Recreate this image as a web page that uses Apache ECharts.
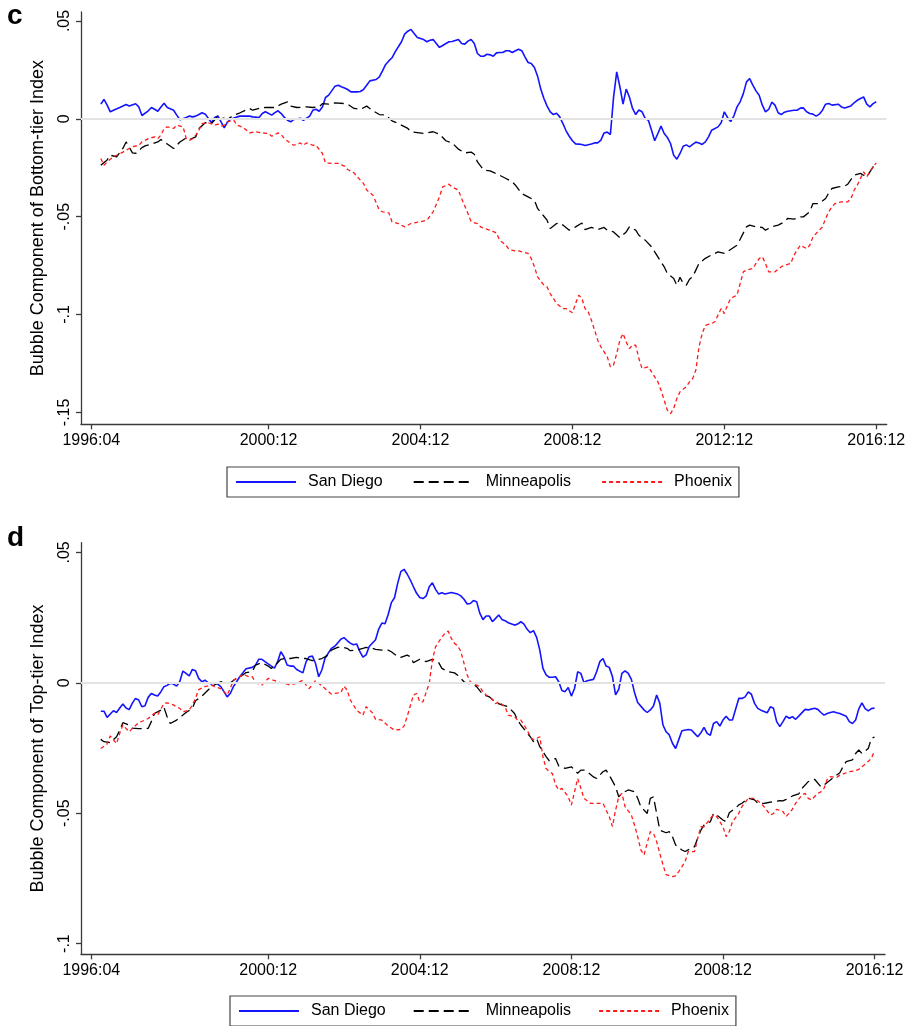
<!DOCTYPE html>
<html><head><meta charset="utf-8">
<script src="https://cdn.jsdelivr.net/npm/echarts@6/dist/echarts.min.js"></script>
<style>html,body{margin:0;padding:0;background:#fff}#chart{width:912px;height:1026px}</style>
</head><body><div id="chart"></div>
<script>
// month index = months since 1996:04
const tickMonths = [0, 56, 104, 152, 200, 248];
const xLabelsC = ['1996:04', '2000:12', '2004:12', '2008:12', '2012:12', '2016:12'];
const xLabelsD = ['1996:04', '2000:12', '2004:12', '2008:12', '2008:12', '2016:12'];
const yTicksC = [-0.15, -0.1, -0.05, 0, 0.05];
const yLabelsC = ['-.15', '-.1', '-.05', '0', '.05'];
const yTicksD = [-0.1, -0.05, 0, 0.05];
const yLabelsD = ['-.1', '-.05', '0', '.05'];
const seriesNames = ['San Diego', 'Minneapolis', 'Phoenix'];
const titleC = 'Bubble Component of Bottom-tier Index';
const titleD = 'Bubble Component of Top-tier Index';

// Panel c: bottom-tier index  [monthIndex, value]
const sanDiegoBottom = [[3,.0075],[4,.0099],[5,.0070],[6,.0036],[7,.0044],[9,.0058],[11,.0073],[12,.0066],[14,.0077],[15,.0061],[16,.0017],[18,.0041],[19,.0058],[20,.0049],[21,.0039],[22,.0061],[23,.0080],[24,.0058],[26,.0044],[27,.0019],[28,-.0005],[30,.0007],[31,.0014],[32,.0010],[33,.0014],[34,.0022],[35,.0031],[36,.0024],[37,.0002],[38,-.0020],[39,.0007],[40,.0014],[41,-.0015],[42,-.0046],[43,-.0017],[44,-.0002],[46,.0010],[47,.0014],[50,.0014],[51,.0010],[53,.0007],[54,.0027],[55,.0036],[57,.0019],[58,.0032],[59,.0041],[60,.0027],[61,.0007],[62,-.0007],[63,-.0015],[64,-.0003],[66,.0003],[67,-.0007],[69,.0014],[70,.0044],[71,.0049],[72,.0039],[73,.0061],[74,.0109],[75,.0121],[77,.0167],[78,.0172],[79,.0164],[80,.0158],[81,.0150],[82,.0138],[84,.0138],[85,.0140],[86,.0150],[87,.0172],[88,.0194],[90,.0201],[91,.0215],[92,.0245],[93,.0278],[94,.0296],[95,.0312],[96,.0342],[98,.0394],[99,.0433],[100,.0448],[101,.0457],[102,.0436],[103,.0416],[105,.0405],[106,.0394],[107,.0402],[108,.0405],[109,.0385],[110,.0365],[111,.0375],[113,.0394],[114,.0395],[116,.0405],[117,.0385],[118,.0382],[119,.0397],[120,.0405],[121,.0385],[122,.0334],[123,.0320],[124,.0320],[125,.0330],[126,.0327],[127,.0320],[128,.0337],[129,.0339],[130,.0339],[131,.0348],[132,.0348],[133,.0339],[134,.0348],[135,.0356],[136,.0348],[137,.0317],[138,.0288],[139,.0283],[140,.0262],[141,.0218],[142,.0152],[143,.0104],[144,.0065],[145,.0036],[146,.0022],[147,.0029],[148,.0010],[149,-.0024],[150,-.0061],[151,-.0089],[152,-.0112],[153,-.0128],[154,-.0129],[155,-.0131],[156,-.0136],[158,-.0129],[159,-.0123],[160,-.0123],[161,-.0109],[162,-.0072],[163,-.0068],[164,-.0080],[165,.0110],[166,.0240],[167,.0164],[168,.0075],[169,.0152],[170,.0112],[171,.0053],[172,.0022],[173,.0045],[174,.0036],[175,.0002],[176,-.0007],[177,-.0058],[178,-.0112],[179,-.0075],[180,-.0037],[181,-.0075],[182,-.0095],[183,-.0126],[184,-.0186],[185,-.0206],[186,-.0177],[187,-.0140],[188,-.0133],[189,-.0143],[190,-.0131],[191,-.0119],[192,-.0123],[193,-.0131],[194,-.0118],[195,-.0092],[196,-.0058],[198,-.0041],[199,-.0020],[200,.0036],[201,.0007],[202,-.0014],[203,.0014],[204,.0061],[205,.0087],[206,.0129],[207,.0189],[208,.0206],[209,.0172],[210,.0143],[211,.0121],[212,.0070],[213,.0036],[214,.0048],[215,.0085],[216,.0070],[217,.0031],[218,.0022],[219,.0034],[220,.0039],[222,.0044],[223,.0044],[224,.0055],[225,.0056],[226,.0036],[227,.0027],[228,.0024],[229,.0014],[230,.0024],[231,.0044],[232,.0075],[233,.0078],[234,.0070],[236,.0075],[237,.0061],[238,.0055],[239,.0061],[240,.0066],[241,.0082],[242,.0095],[243,.0104],[244,.0112],[245,.0075],[246,.0061],[247,.0078],[248,.0087]];
const minneapolisBottom = [[3,-.0237],[5,-.0210],[6,-.0186],[8,-.0194],[10,-.0150],[11,-.0118],[13,-.0174],[14,-.0177],[16,-.0147],[17,-.0138],[19,-.0129],[21,-.0118],[22,-.0106],[24,-.0129],[26,-.0152],[28,-.0118],[30,-.0097],[31,-.0106],[33,-.0092],[34,-.0049],[36,-.0020],[38,-.0024],[40,.0014],[41,.0007],[43,-.0003],[45,.0019],[47,.0031],[50,.0053],[51,.0044],[53,.0053],[55,.0058],[58,.0058],[60,.0075],[62,.0087],[63,.0065],[65,.0058],[68,.0061],[70,.0058],[72,.0061],[73,.0078],[75,.0075],[77,.0082],[80,.0078],[81,.0075],[83,.0053],[85,.0048],[87,.0065],[89,.0041],[91,.0022],[93,.0019],[95,-.0010],[97,-.0024],[100,-.0049],[101,-.0066],[103,-.0070],[105,-.0075],[108,-.0066],[110,-.0078],[112,-.0112],[114,-.0123],[116,-.0155],[118,-.0174],[120,-.0170],[121,-.0181],[122,-.0220],[124,-.0262],[126,-.0266],[129,-.0288],[131,-.0305],[133,-.0322],[134,-.0339],[136,-.0382],[138,-.0399],[140,-.0416],[141,-.0458],[144,-.0518],[145,-.0560],[147,-.0535],[148,-.0532],[149,-.0543],[151,-.0569],[153,-.0552],[155,-.0532],[156,-.0566],[158,-.0555],[160,-.0566],[162,-.0555],[163,-.0569],[165,-.0578],[167,-.0607],[169,-.0578],[170,-.0552],[172,-.0569],[173,-.0595],[175,-.0620],[177,-.0654],[178,-.0680],[180,-.0731],[181,-.0756],[182,-.0790],[184,-.0816],[185,-.0850],[186,-.0810],[187,-.0841],[188,-.0850],[189,-.0820],[190,-.0807],[191,-.0773],[192,-.0739],[194,-.0713],[196,-.0695],[198,-.0680],[200,-.0688],[201,-.0678],[204,-.0646],[205,-.0615],[207,-.0552],[208,-.0543],[210,-.0552],[212,-.0555],[213,-.0569],[215,-.0552],[217,-.0543],[219,-.0526],[220,-.0509],[222,-.0513],[224,-.0501],[225,-.0501],[227,-.0475],[228,-.0433],[230,-.0433],[232,-.0407],[233,-.0378],[234,-.0356],[236,-.0348],[238,-.0344],[239,-.0334],[241,-.0288],[243,-.0279],[244,-.0288],[245,-.0296],[247,-.0245],[248,-.0225]];
const phoenixBottom = [[3,-.0203],[4,-.0237],[5,-.0220],[7,-.0194],[8,-.0186],[10,-.0170],[11,-.0160],[13,-.0143],[15,-.0135],[16,-.0118],[18,-.0101],[20,-.0092],[21,-.0101],[22,-.0083],[23,-.0049],[24,-.0041],[26,-.0049],[27,-.0032],[29,-.0041],[30,-.0101],[31,-.0110],[32,-.0101],[33,-.0083],[34,-.0058],[35,-.0024],[37,-.0020],[39,-.0032],[40,-.0027],[41,-.0037],[42,-.0032],[43,-.0015],[45,-.0007],[46,-.0032],[48,-.0044],[50,-.0072],[52,-.0066],[54,-.0072],[56,-.0075],[57,-.0089],[59,-.0072],[60,-.0080],[61,-.0101],[63,-.0126],[64,-.0135],[66,-.0123],[67,-.0135],[68,-.0123],[70,-.0135],[71,-.0135],[73,-.0177],[74,-.0225],[76,-.0228],[78,-.0228],[80,-.0242],[81,-.0259],[83,-.0276],[84,-.0296],[86,-.0330],[87,-.0364],[89,-.0390],[90,-.0429],[91,-.0467],[92,-.0475],[94,-.0480],[95,-.0526],[97,-.0535],[99,-.0552],[101,-.0535],[102,-.0532],[104,-.0526],[106,-.0518],[108,-.0475],[110,-.0399],[111,-.0348],[113,-.0334],[114,-.0348],[116,-.0365],[117,-.0407],[119,-.0484],[120,-.0526],[122,-.0535],[123,-.0552],[124,-.0560],[126,-.0569],[128,-.0583],[129,-.0620],[131,-.0646],[132,-.0668],[134,-.0675],[135,-.0675],[138,-.0688],[139,-.0714],[140,-.0756],[141,-.0808],[143,-.0850],[144,-.0859],[145,-.0893],[147,-.0944],[149,-.0970],[150,-.0970],[152,-.0991],[153,-.0944],[154,-.0901],[155,-.0918],[156,-.0970],[157,-.0986],[158,-.1029],[159,-.1080],[160,-.1131],[161,-.1165],[163,-.1216],[164,-.1267],[165,-.1259],[166,-.1199],[167,-.1131],[168,-.1097],[169,-.1140],[170,-.1174],[171,-.1157],[172,-.1157],[173,-.1225],[174,-.1276],[176,-.1267],[177,-.1293],[178,-.1319],[179,-.1344],[180,-.1387],[181,-.1438],[182,-.1489],[183,-.1506],[184,-.1480],[185,-.1429],[186,-.1395],[188,-.1369],[189,-.1344],[190,-.1327],[191,-.1284],[192,-.1165],[193,-.1097],[194,-.1055],[196,-.1046],[197,-.1037],[198,-.1003],[199,-.0969],[200,-.0995],[201,-.0952],[202,-.0918],[204,-.0901],[205,-.0842],[206,-.0782],[207,-.0773],[209,-.0765],[210,-.0739],[211,-.0714],[212,-.0705],[213,-.0739],[214,-.0782],[216,-.0782],[218,-.0756],[219,-.0748],[221,-.0739],[222,-.0697],[223,-.0671],[224,-.0646],[226,-.0663],[227,-.0646],[228,-.0603],[230,-.0569],[231,-.0552],[232,-.0509],[233,-.0475],[234,-.0450],[235,-.0433],[237,-.0424],[239,-.0424],[240,-.0407],[241,-.0365],[242,-.0339],[243,-.0305],[244,-.0271],[245,-.0296],[246,-.0271],[247,-.0245],[248,-.0225]];

// Panel d: top-tier index  [monthIndex, value]
const sanDiegoTop = [[3,-.0109],[4,-.0109],[5,-.0133],[6,-.0120],[7,-.0107],[8,-.0114],[9,-.0097],[10,-.0081],[11,-.0097],[12,-.0103],[13,-.0078],[14,-.0060],[15,-.0066],[16,-.0092],[17,-.0088],[18,-.0056],[19,-.0041],[20,-.0047],[21,-.0051],[22,-.0035],[23,-.0015],[24,-.0010],[25,-.0002],[26,-.0005],[27,-.0013],[28,.0004],[29,.0045],[30,.0036],[31,.0026],[32,.0051],[33,.0046],[34,.0017],[35,.0004],[36,.0010],[37,.0000],[38,-.0005],[39,.0000],[40,-.0005],[41,-.0015],[42,-.0034],[43,-.0054],[44,-.0041],[45,-.0015],[46,.0004],[47,.0023],[48,.0038],[49,.0054],[51,.0059],[52,.0068],[53,.0090],[54,.0090],[55,.0081],[57,.0064],[58,.0056],[59,.0081],[60,.0119],[61,.0100],[62,.0068],[63,.0064],[64,.0064],[65,.0051],[67,.0038],[68,.0080],[69,.0100],[70,.0102],[71,.0074],[72,.0023],[73,.0049],[74,.0094],[76,.0132],[77,.0139],[78,.0152],[79,.0167],[80,.0173],[81,.0162],[82,.0152],[83,.0146],[84,.0149],[85,.0120],[86,.0098],[87,.0107],[88,.0139],[90,.0165],[91,.0206],[92,.0229],[93,.0226],[94,.0262],[95,.0307],[96,.0326],[97,.0381],[98,.0426],[99,.0435],[100,.0417],[101,.0394],[102,.0368],[103,.0343],[104,.0327],[105,.0323],[106,.0332],[107,.0368],[108,.0383],[109,.0358],[110,.0340],[111,.0345],[112,.0340],[113,.0343],[114,.0346],[115,.0343],[116,.0340],[117,.0333],[118,.0320],[119,.0302],[120,.0304],[121,.0315],[122,.0311],[123,.0267],[124,.0242],[125,.0256],[126,.0256],[127,.0234],[128,.0247],[129,.0260],[130,.0243],[131,.0238],[132,.0230],[134,.0221],[135,.0225],[136,.0234],[137,.0225],[138,.0205],[139,.0192],[140,.0200],[141,.0174],[142,.0125],[143,.0055],[144,.0030],[145,.0021],[146,.0021],[147,.0023],[148,.0004],[149,-.0030],[150,-.0034],[151,-.0018],[152,-.0051],[153,-.0022],[154,.0042],[155,.0036],[156,.0000],[157,.0008],[159,.0013],[160,.0042],[161,.0081],[162,.0093],[163,.0064],[164,.0059],[165,.0024],[166,-.0046],[167,-.0025],[168,.0036],[169,.0046],[170,.0036],[171,.0013],[172,-.0038],[173,-.0076],[175,-.0104],[176,-.0114],[177,-.0104],[178,-.0089],[179,-.0047],[180,-.0079],[181,-.0162],[182,-.0188],[183,-.0200],[184,-.0232],[185,-.0252],[186,-.0218],[187,-.0184],[189,-.0179],[190,-.0181],[191,-.0194],[192,-.0207],[193,-.0192],[194,-.0171],[195,-.0194],[196,-.0201],[197,-.0156],[198,-.0149],[199,-.0166],[200,-.0143],[201,-.0128],[202,-.0143],[203,-.0143],[205,-.0060],[206,-.0060],[207,-.0054],[208,-.0035],[209,-.0044],[210,-.0079],[211,-.0098],[212,-.0105],[214,-.0115],[215,-.0092],[216,-.0098],[217,-.0149],[218,-.0168],[219,-.0149],[220,-.0128],[221,-.0136],[222,-.0130],[223,-.0140],[224,-.0128],[226,-.0102],[227,-.0104],[229,-.0098],[230,-.0102],[231,-.0114],[232,-.0124],[233,-.0118],[234,-.0114],[235,-.0111],[236,-.0115],[237,-.0118],[239,-.0128],[240,-.0149],[241,-.0156],[242,-.0143],[243,-.0100],[244,-.0077],[245,-.0099],[246,-.0108],[247,-.0099],[248,-.0097]];
const minneapolisTop = [[3,-.0217],[4,-.0226],[6,-.0230],[8,-.0207],[9,-.0182],[10,-.0153],[12,-.0162],[13,-.0174],[15,-.0176],[18,-.0175],[19,-.0149],[20,-.0118],[22,-.0105],[23,-.0094],[24,-.0130],[25,-.0156],[27,-.0143],[29,-.0124],[30,-.0114],[32,-.0098],[33,-.0069],[35,-.0051],[37,-.0028],[38,-.0015],[40,-.0002],[41,.0004],[43,.0001],[44,.0000],[46,.0017],[48,.0030],[49,.0039],[51,.0043],[52,.0068],[54,.0077],[56,.0064],[57,.0055],[59,.0077],[60,.0090],[61,.0093],[63,.0093],[65,.0097],[67,.0093],[68,.0093],[70,.0085],[71,.0087],[73,.0093],[75,.0106],[76,.0125],[78,.0136],[79,.0138],[81,.0132],[82,.0123],[84,.0125],[86,.0132],[87,.0136],[89,.0132],[90,.0128],[92,.0125],[94,.0125],[95,.0119],[97,.0100],[98,.0097],[100,.0106],[101,.0100],[102,.0077],[104,.0090],[106,.0081],[108,.0090],[110,.0077],[111,.0055],[113,.0042],[115,.0038],[116,.0029],[118,.0004],[119,-.0002],[121,-.0005],[122,-.0015],[123,-.0030],[124,-.0045],[126,-.0054],[127,-.0064],[128,-.0076],[130,-.0085],[132,-.0092],[134,-.0118],[135,-.0143],[136,-.0162],[138,-.0192],[139,-.0207],[140,-.0226],[141,-.0214],[142,-.0245],[144,-.0283],[145,-.0299],[147,-.0290],[148,-.0319],[150,-.0328],[152,-.0322],[154,-.0347],[155,-.0335],[156,-.0335],[157,-.0341],[159,-.0361],[160,-.0367],[162,-.0341],[163,-.0335],[164,-.0354],[166,-.0399],[167,-.0437],[168,-.0424],[170,-.0411],[172,-.0418],[173,-.0443],[174,-.0475],[176,-.0501],[177,-.0443],[178,-.0437],[179,-.0501],[180,-.0565],[182,-.0575],[183,-.0571],[184,-.0590],[185,-.0622],[187,-.0641],[188,-.0647],[191,-.0628],[192,-.0596],[193,-.0565],[194,-.0546],[196,-.0533],[197,-.0501],[198,-.0507],[200,-.0526],[201,-.0533],[202,-.0498],[204,-.0481],[205,-.0468],[206,-.0462],[208,-.0443],[210,-.0449],[211,-.0462],[213,-.0462],[214,-.0460],[216,-.0456],[218,-.0452],[219,-.0453],[220,-.0447],[222,-.0434],[223,-.0430],[224,-.0426],[225,-.0405],[227,-.0379],[229,-.0370],[231,-.0399],[232,-.0392],[234,-.0373],[235,-.0363],[237,-.0345],[238,-.0322],[239,-.0302],[241,-.0296],[242,-.0271],[243,-.0258],[244,-.0271],[246,-.0252],[247,-.0213],[248,-.0208]];
const phoenixTop = [[3,-.0252],[5,-.0235],[6,-.0204],[8,-.0233],[9,-.0194],[10,-.0162],[12,-.0188],[13,-.0175],[15,-.0153],[17,-.0143],[18,-.0137],[20,-.0117],[21,-.0124],[23,-.0079],[24,-.0077],[26,-.0085],[28,-.0098],[29,-.0111],[31,-.0105],[32,-.0085],[33,-.0060],[34,-.0026],[36,-.0015],[38,-.0009],[39,-.0015],[41,-.0022],[42,-.0034],[43,-.0047],[44,-.0022],[45,.0010],[47,.0023],[48,.0033],[50,.0023],[51,.0023],[52,.0000],[54,-.0009],[56,.0017],[57,.0013],[59,.0004],[60,.0000],[62,-.0005],[63,-.0009],[65,-.0002],[67,.0010],[68,-.0009],[69,-.0022],[71,.0008],[72,-.0002],[74,-.0022],[76,-.0043],[77,-.0041],[79,-.0038],[80,-.0013],[81,-.0028],[82,-.0066],[84,-.0105],[86,-.0124],[87,-.0092],[89,-.0115],[90,-.0140],[92,-.0143],[94,-.0166],[96,-.0181],[98,-.0179],[99,-.0166],[100,-.0130],[102,-.0047],[103,-.0041],[104,-.0073],[105,-.0073],[107,-.0002],[108,.0087],[109,.0138],[111,.0175],[112,.0190],[113,.0198],[114,.0170],[115,.0151],[116,.0142],[117,.0120],[118,.0075],[119,.0030],[120,.0004],[121,-.0005],[122,-.0009],[123,-.0015],[124,-.0034],[125,-.0047],[126,-.0054],[127,-.0064],[128,-.0080],[129,-.0073],[131,-.0092],[132,-.0124],[134,-.0130],[135,-.0143],[136,-.0143],[137,-.0162],[138,-.0181],[139,-.0207],[140,-.0219],[142,-.0207],[143,-.0284],[144,-.0329],[145,-.0341],[146,-.0348],[147,-.0392],[148,-.0411],[149,-.0405],[151,-.0437],[152,-.0469],[153,-.0418],[154,-.0367],[155,-.0405],[156,-.0443],[158,-.0462],[159,-.0462],[161,-.0462],[162,-.0462],[163,-.0488],[164,-.0513],[165,-.0551],[166,-.0488],[167,-.0437],[168,-.0424],[169,-.0475],[171,-.0507],[172,-.0546],[173,-.0590],[174,-.0641],[175,-.0660],[176,-.0615],[177,-.0571],[178,-.0577],[179,-.0609],[180,-.0654],[181,-.0698],[182,-.0736],[184,-.0743],[185,-.0740],[186,-.0724],[188,-.0686],[189,-.0647],[191,-.0647],[192,-.0596],[193,-.0552],[194,-.0552],[196,-.0520],[197,-.0507],[198,-.0513],[200,-.0552],[201,-.0590],[202,-.0571],[203,-.0533],[205,-.0501],[206,-.0475],[208,-.0443],[210,-.0443],[212,-.0462],[213,-.0475],[215,-.0507],[216,-.0501],[217,-.0485],[219,-.0494],[220,-.0513],[222,-.0485],[223,-.0462],[225,-.0430],[226,-.0424],[227,-.0443],[228,-.0449],[230,-.0424],[231,-.0418],[232,-.0405],[233,-.0370],[234,-.0360],[236,-.0363],[237,-.0354],[239,-.0345],[240,-.0341],[242,-.0337],[243,-.0332],[244,-.0322],[245,-.0312],[247,-.0290],[248,-.0260]];

const FONT = '"Liberation Sans", Arial, Helvetica, sans-serif';
const AXIS_COLOR = '#3a3a3a';
const styles = [
  { color: '#1414ff', width: 1.6, type: 'solid' },
  { color: '#000000', width: 1.3, type: [10, 5] },
  { color: '#ff1a1a', width: 1.3, type: [4, 3] }
];

function xAxis(gridIndex, labels) {
  return {
    type: 'value', gridIndex, min: -3.26, max: 251.3,
    axisLine: { show: true, onZero: false, lineStyle: { color: AXIS_COLOR, width: 1.3 } },
    axisTick: { show: true, customValues: tickMonths, length: 5, lineStyle: { color: AXIS_COLOR, width: 1.3 } },
    axisLabel: {
      customValues: tickMonths, margin: 8, color: '#000', fontSize: 16, fontFamily: FONT,
      formatter: v => labels[tickMonths.indexOf(Math.round(v))]
    },
    splitLine: { show: false }
  };
}
function yAxis(gridIndex, min, max, ticks, labels, name) {
  return {
    type: 'value', gridIndex, min, max,
    name, nameLocation: 'middle', nameRotate: 90, nameGap: 34,
    nameTextStyle: { fontSize: 18, fontFamily: FONT, color: '#000' },
    axisLine: { show: true, onZero: false, lineStyle: { color: AXIS_COLOR, width: 1.3 } },
    axisTick: { show: true, customValues: ticks, length: 5, lineStyle: { color: AXIS_COLOR, width: 1.3 } },
    axisLabel: {
      customValues: ticks, rotate: 90, margin: 8, color: '#000', fontSize: 16, fontFamily: FONT,
      formatter: v => labels[ticks.findIndex(t => Math.abs(t - v) < 1e-9)]
    },
    splitLine: { show: false }
  };
}
function lineSeries(name, data, idx, styleIdx) {
  return {
    name, type: 'line', data, xAxisIndex: idx, yAxisIndex: idx,
    showSymbol: false, symbol: 'none', z: 3,
    lineStyle: styles[styleIdx], itemStyle: { color: styles[styleIdx].color },
    emphasis: { disabled: true }
  };
}
function zeroLine(idx) {
  return {
    type: 'line', data: [], xAxisIndex: idx, yAxisIndex: idx, z: 1, silent: true,
    markLine: {
      silent: true, symbol: ['none', 'none'], label: { show: false },
      lineStyle: { color: '#e3e3e3', width: 2, type: 'solid' },
      data: [{ yAxis: 0 }]
    }
  };
}
function legend(left, top, gap, padRight) {
  return {
    data: seriesNames, left, top, orient: 'horizontal',
    backgroundColor: '#fff', borderColor: '#444', borderWidth: 1.2,
    padding: [7, padRight, 7, 8], itemGap: gap, itemWidth: 60, itemHeight: 14,
    itemStyle: { opacity: 0 },
    textStyle: { fontSize: 16, fontFamily: FONT, color: '#000', padding: [0, 0, 0, 7] },
    selectedMode: false
  };
}

const chart = echarts.init(document.getElementById('chart'), null, { renderer: 'canvas' });
chart.setOption({
  animation: false,
  backgroundColor: '#fff',
  graphic: [
    { type: 'text', left: 7, top: 2, style: { text: 'c', font: 'bold 28px ' + FONT, fill: '#000' } },
    { type: 'text', left: 7, top: 524, style: { text: 'd', font: 'bold 28px ' + FONT, fill: '#000' } }
  ],
  grid: [
    { left: 81, top: 12, right: 25.3, height: 412.3 },
    { left: 81, top: 542.7, right: 27, height: 411.6 }
  ],
  xAxis: [xAxis(0, xLabelsC), xAxis(1, xLabelsD)],
  yAxis: [
    yAxis(0, -0.1561, 0.0546, yTicksC, yLabelsC, titleC),
    yAxis(1, -0.1041, 0.0537, yTicksD, yLabelsD, titleD)
  ],
  legend: [legend(227, 467, 30, 7), legend(230, 996, 27, 7)],
  series: [
    zeroLine(0), zeroLine(1),
    lineSeries('San Diego', sanDiegoBottom, 0, 0),
    lineSeries('Minneapolis', minneapolisBottom, 0, 1),
    lineSeries('Phoenix', phoenixBottom, 0, 2),
    lineSeries('San Diego', sanDiegoTop, 1, 0),
    lineSeries('Minneapolis', minneapolisTop, 1, 1),
    lineSeries('Phoenix', phoenixTop, 1, 2)
  ]
});
</script></body></html>
